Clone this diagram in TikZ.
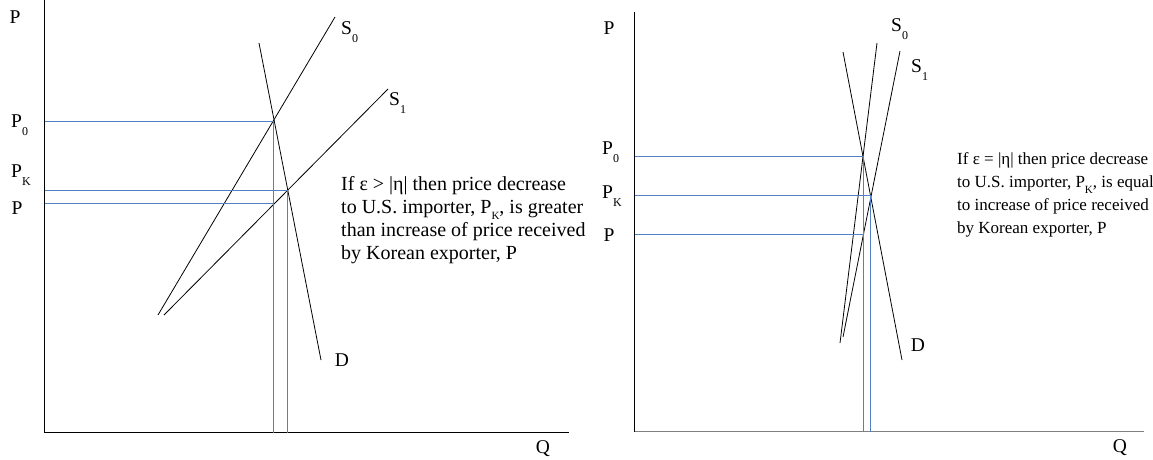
\documentclass[tikz,border=0pt]{standalone}
\usepackage{fontspec}
\setmainfont{Liberation Serif}
\definecolor{guide}{RGB}{79,129,196}
\definecolor{axisgray}{RGB}{128,128,128}
\newcommand\lowsub[1]{\raisebox{-7.5pt}{\fontsize{12}{12}\selectfont #1}}
\newcommand\smallsub[1]{\raisebox{-6pt}{\fontsize{11}{11}\selectfont #1}}
\begin{document}
\begin{tikzpicture}[x=1pt,y=-1pt,
  axisline/.style={black,line width=1.1pt},
  curve/.style={black,line width=0.8pt},
  guideline/.style={guide,line width=1.5pt},
  lbl/.style={inner sep=0pt,font=\fontsize{19.5}{23}\selectfont},
  note/.style={inner sep=0pt,anchor=north west,align=left,font=\fontsize{20}{23.2}\selectfont},
  rnote/.style={inner sep=0pt,anchor=north west,align=left,font=\fontsize{17}{23}\selectfont}]
\useasboundingbox (0,0) rectangle (1153,459);
% ---------- left panel ----------
\coordinate (ly) at (44.5,0);
\coordinate (lo) at (44.5,432.5);
\coordinate (lx) at (569,432.5);
\draw[axisline] (ly) -- (lo) -- (lx);
\coordinate (ls0a) at (158,315); \coordinate (ls0b) at (335,17);
\coordinate (ls1a) at (164,315); \coordinate (ls1b) at (388,89);
\coordinate (lda) at (259,43); \coordinate (ldb) at (321,360);
\draw[curve] (ls0a) -- (ls0b);
\draw[curve] (ls1a) -- (ls1b);
\draw[curve] (lda) -- (ldb);
\coordinate (le0) at (273.5,121.5);
\coordinate (le1) at (287.5,190.5);
\coordinate (lp) at (44.5,203.5);
\draw[guideline] (lo |- le0) -- (le0) -- (le0 |- lo);
\draw[guideline] (lo |- le1) -- (le1) -- (le1 |- lo);
\draw[guideline] (lp) -- (lp -| le0);
\node[lbl] (lPtop) at (15,17) {P};
\node[lbl,anchor=west] (lP0) at (11,125) {P\lowsub{0}};
\node[lbl,anchor=west] (lPK) at (11,175) {P\lowsub{K}};
\node[lbl] (lP) at (17,208) {P};
\node[lbl,anchor=west] (lS0) at (341,32) {S\lowsub{0}};
\node[lbl,anchor=west] (lS1) at (389,103) {S\lowsub{1}};
\node[lbl] (lDl) at (342,360) {D};
\node[lbl] (lQ) at (543,449) {Q};
\node[note] (lnote) at (341,176) {If ε > |η| then price decrease\\to U.S. importer, P\smallsub{K}, is greater\\than increase of price received\\by Korean exporter, P};
% ---------- right panel ----------
\coordinate (ry) at (634.5,12);
\coordinate (ro) at (634.5,431.5);
\coordinate (rx) at (1144,431.5);
\draw[axisline] (ry) -- (ro);
\draw[axisgray,line width=1.6pt] (ro) -- (rx);
\coordinate (rda) at (843,52); \coordinate (rdb) at (902,360);
\coordinate (rs0a) at (840,343); \coordinate (rs0b) at (877,43);
\coordinate (rs1a) at (843,337); \coordinate (rs1b) at (900,51);
\draw[curve] (rda) -- (rdb);
\draw[curve] (rs0a) -- (rs0b);
\draw[curve] (rs1a) -- (rs1b);
\coordinate (re0) at (863.5,156.5);
\coordinate (re1) at (870.5,195.5);
\coordinate (rp) at (634.5,234.5);
\draw[guideline] (ro |- re0) -- (re0) -- (re0 |- ro);
\draw[guideline] (ro |- re1) -- (re1) -- (re1 |- ro);
\draw[guideline] (rp) -- (rp -| re0);
\node[lbl] (rPtop) at (609,28) {P};
\node[lbl,anchor=west] (rP0) at (602,152) {P\lowsub{0}};
\node[lbl,anchor=west] (rPK) at (602,196) {P\lowsub{K}};
\node[lbl] (rP) at (609,235) {P};
\node[lbl,anchor=west] (rS0) at (891,29) {S\lowsub{0}};
\node[lbl,anchor=west] (rS1) at (911,70) {S\lowsub{1}};
\node[lbl] (rDl) at (918,345) {D};
\node[lbl] (rQ) at (1120,448) {Q};
\node[rnote] (rnote) at (957,152) {If ε = |η| then price decrease\\to U.S. importer, P\smallsub{K}, is equal\\to increase of price received\\by Korean exporter, P};
\end{tikzpicture}
\end{document}
